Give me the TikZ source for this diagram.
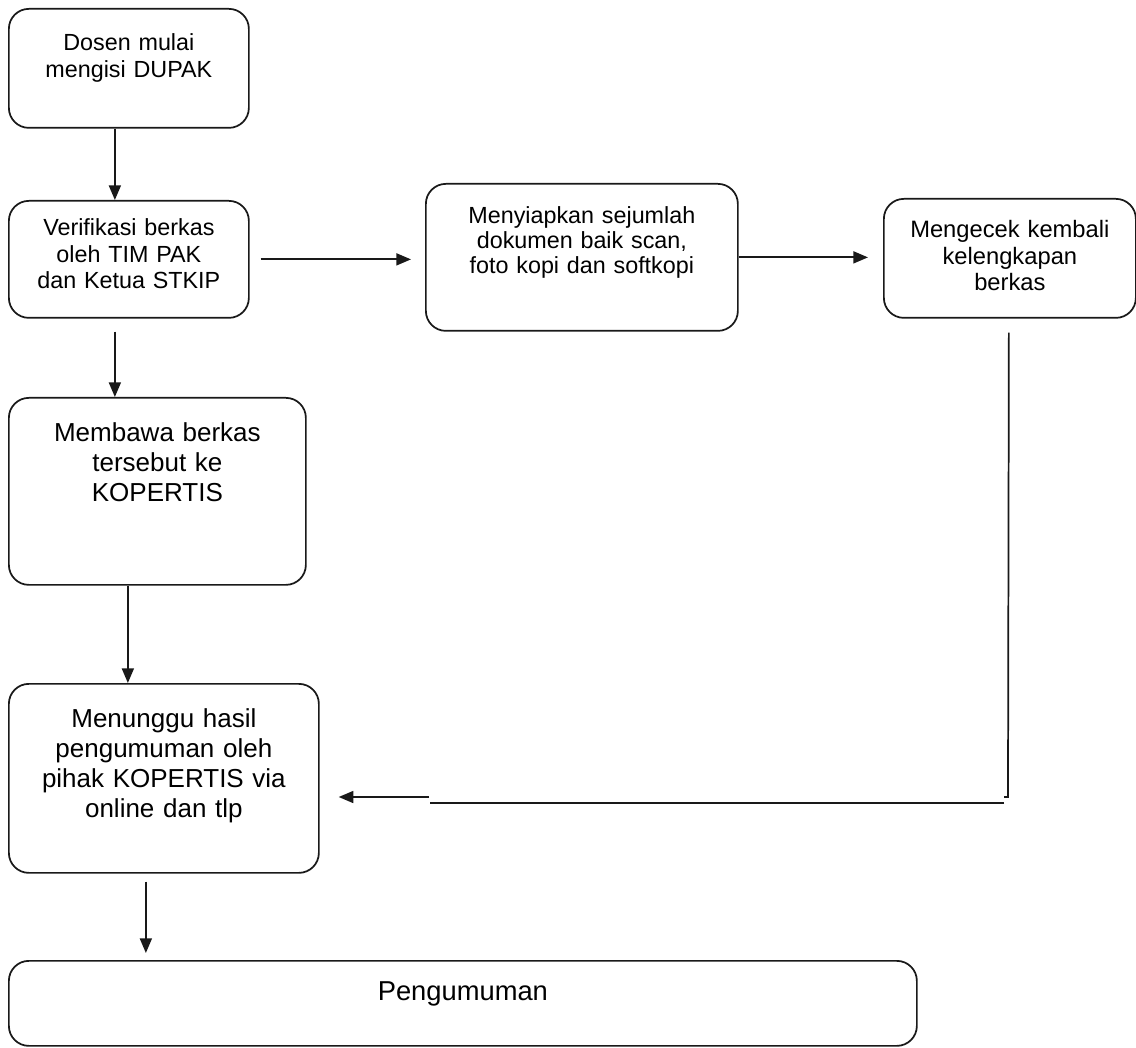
\documentclass[tikz,border=0pt]{standalone}
\usepackage{fontspec}
\setmainfont{Liberation Sans}
\usetikzlibrary{arrows.meta,positioning,calc}

\begin{document}
\begin{tikzpicture}[
    x=0.75pt, y=-0.75pt,
    stepbox/.style={
        rectangle, draw=black!90, line width=1.3pt, fill=white,
        rounded corners=15pt, inner sep=0pt, anchor=north west, align=center
    },
    smallTxt/.style={font=\fontsize{17.5}{19.9}\selectfont},
    midTxt/.style={font=\fontsize{17.5}{18.75}\selectfont},
    bigTxt/.style={font=\fontsize{19.5}{22.5}\selectfont},
    arr/.style={-{Triangle[length=11pt, width=9pt]}, line width=1.3pt, draw=black!90},
    link/.style={line width=1.3pt, draw=black!90}
]
    \useasboundingbox (0,0) rectangle (1136,1048);

    % Left column: start
    \node [stepbox, smallTxt, text width=180pt, text height=31.5pt, text depth=57.75pt] (dosen) at (8,8) {
        Dosen mulai\\
        mengisi DUPAK
    };

    % Left column: verification
    \node [stepbox, smallTxt, text width=180pt, text height=26.25pt, text depth=61.5pt] (verif) at (8,200) {
        Verifikasi berkas\\
        oleh TIM PAK\\
        dan Ketua STKIP
    };

    % Top row: documents
    \node [stepbox, midTxt, text width=234pt, text height=30pt, text depth=80.25pt] (siapkan) at (425,183) {
        Menyiapkan sejumlah\\
        dokumen baik scan,\\
        foto kopi dan softkopi
    };

    % Top row: check again
    \node [stepbox, font=\fontsize{17.8}{19.9}\selectfont, text width=189pt, text height=29.25pt, text depth=60pt] (cek) at (883,198) {
        Mengecek kembali\\
        kelengkapan\\
        berkas
    };

    % Left column: bring to KOPERTIS
    \node [stepbox, bigTxt, text width=222.75pt, text height=33pt, text depth=107.25pt] (bawa) at (8,397) {
        Membawa berkas\\
        tersebut ke\\
        KOPERTIS
    };

    % Left column: waiting
    \node [stepbox, bigTxt, text width=232.5pt, text height=33pt, text depth=108.75pt] (tunggu) at (8,683) {
        Menunggu hasil\\
        pengumuman oleh\\
        pihak KOPERTIS via\\
        online dan tlp
    };

    % Bottom bar: announcement
    \node [stepbox, font=\fontsize{20.5}{24}\selectfont, text width=681pt, text height=30pt, text depth=33.75pt] (umum) at (8,960) {
        Pengumuman
    };

    % Vertical flow on the left
    \coordinate (a1) at ($(dosen.south)+(-14,0)$);
    \draw [arr] (a1) -- (a1 |- verif.north);
    \coordinate (a4) at ($(verif.south)+(-14,13)$);
    \draw [arr] (a4) -- (a4 |- bawa.north);
    \coordinate (a5) at ($(bawa.south)+(-29.5,0)$);
    \draw [arr] (a5) -- (a5 |- tunggu.north);
    \coordinate (a6) at ($(tunggu.south)+(-18,8)$);
    \draw [arr, shorten >=5.25pt] (a6) -- (a6 |- umum.north);

    % Horizontal flow on the top
    \draw [arr, shorten <=8.25pt, shorten >=10.5pt] (verif.east) -- (verif.east -| siapkan.west);
    \draw [arr, shorten >=11.25pt] (siapkan.east) -- (siapkan.east -| cek.west);

    % Back to waiting
    \coordinate (fbTop) at ($(cek.south)+(-1,14)$);
    \coordinate (fbCorner) at (1008,797);
    \draw [link] (fbTop) -- (fbCorner) -- ++(-4,0);
    \coordinate (fbLow) at ($(fbCorner)+(-4,6)$);
    \coordinate (fbEnd) at (430,803);
    \draw [link] (fbLow) -- (fbEnd);
    \coordinate (fbTip) at ($(tunggu.east)+(19,0)$);
    \draw [arr] (429,797) -- (fbTip |- fbCorner);

\end{tikzpicture}
\end{document}
